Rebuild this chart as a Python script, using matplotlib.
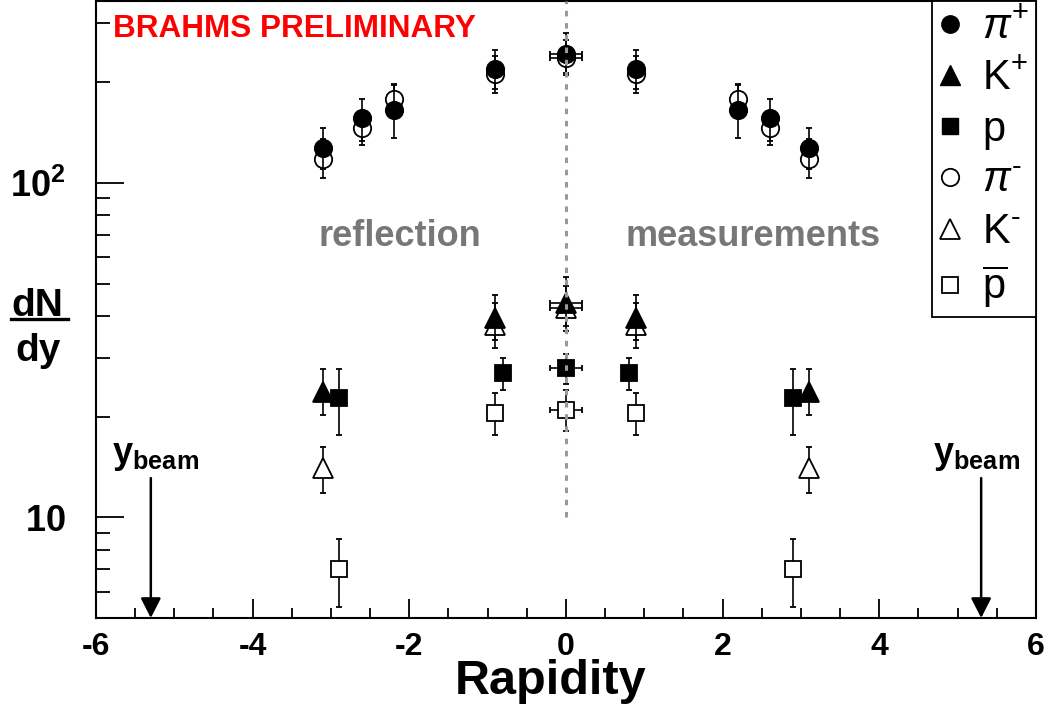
import matplotlib
matplotlib.use('Agg')
import matplotlib.pyplot as plt
from matplotlib.lines import Line2D
from matplotlib.ticker import MultipleLocator, FixedLocator, FixedFormatter, NullFormatter

plt.rcParams['font.family'] = ['Liberation Sans', 'DejaVu Sans']
plt.rcParams['mathtext.fontset'] = 'custom'
plt.rcParams['mathtext.rm'] = 'Liberation Sans'
plt.rcParams['mathtext.it'] = 'Liberation Sans:italic'
plt.rcParams['mathtext.bf'] = 'Liberation Sans:bold'
plt.rcParams['axes.unicode_minus'] = False

# measured side (y >= 0); the negative side is the reflection
pip_y = [0.0, 0.9, 2.2, 2.6, 3.1]
pip_val = [243.8, 218.5, 165.2, 156.0, 127.2]
pip_lo = [213.0, 190.9, 136.5, 133.5, 110.1]
pip_hi = [281.0, 249.5, 197.5, 178.5, 145.9]

pim_y = [0.0, 0.9, 2.2, 2.6, 3.1]
pim_val = [236.6, 211.1, 177.8, 145.6, 118.2]
pim_lo = [209.9, 186.1, 161.8, 129.8, 103.5]
pim_hi = [267.0, 239.0, 195.7, 164.0, 135.2]

kp_y = [0.0, 0.9, 3.1]
kp_val = [43.9, 39.5, 23.7]
kp_lo = [37.4, 33.9, 20.3]
kp_hi = [52.2, 46.1, 27.7]

km_y = [0.0, 0.9, 3.1]
km_val = [42.4, 37.7, 14.0]
km_lo = [36.1, 32.2, 11.8]
km_hi = [49.3, 43.9, 16.2]

p_y = [0.0, 0.8, 2.9]
p_val = [28.0, 27.0, 22.7]
p_lo = [25.1, 24.0, 17.6]
p_hi = [30.9, 29.9, 27.7]

pb_y = [0.0, 0.9, 2.9]
pb_val = [21.0, 20.5, 7.03]
pb_lo = [18.1, 17.6, 5.38]
pb_hi = [24.0, 23.5, 8.64]

mid_xerr = 0.2
y_beam = 5.3

x_ticks = [-6, -4, -2, 0, 2, 4, 6]
x_labels = ['-6', '-4', '-2', '0', '2', '4', '6']


def plot_species(ax, ys, val, lo, hi, marker, ms, filled, z):
    style = dict(marker=marker, ms=ms, ls='none', mec='black', mew=1.3,
                 mfc='black' if filled else 'white', ecolor='black',
                 elinewidth=1.2, capsize=2.5, capthick=1.2, zorder=z)
    xs, vs, el, eh = [], [], [], []
    for r, v, l, h in zip(ys, val, lo, hi):
        if r == 0:
            ax.errorbar([r], [v], yerr=[[v - l], [h - v]], xerr=mid_xerr, **style)
            continue
        for s in (-r, r):
            xs.append(s)
            vs.append(v)
            el.append(v - l)
            eh.append(h - v)
    ax.errorbar(xs, vs, yerr=[el, eh], **style)


fig = plt.figure(figsize=(10.49, 7.19), dpi=100)
ax = fig.add_axes([0.0915, 0.1405, 0.8961, 0.858])

# open markers first, filled on top
plot_species(ax, pim_y, pim_val, pim_lo, pim_hi, 'o', 12.5, False, 3)
plot_species(ax, km_y, km_val, km_lo, km_hi, '^', 14, False, 3)
plot_species(ax, pb_y, pb_val, pb_lo, pb_hi, 's', 11.5, False, 3)
plot_species(ax, pip_y, pip_val, pip_lo, pip_hi, 'o', 12.5, True, 4)
plot_species(ax, kp_y, kp_val, kp_lo, kp_hi, '^', 14, True, 4)
plot_species(ax, p_y, p_val, p_lo, p_hi, 's', 11.5, True, 4)

ax.plot([0, 0], [10, 350], color='#999999', lw=2.2, dashes=(1.8, 2.2), zorder=6)

ax.set_yscale('log')
ax.set_xlim(-6, 6)
ax.set_ylim(5.0, 350)

ax.xaxis.set_major_locator(FixedLocator(x_ticks))
ax.xaxis.set_major_formatter(FixedFormatter(x_labels))
ax.xaxis.set_minor_locator(MultipleLocator(0.5))
ax.yaxis.set_major_locator(FixedLocator([10, 100]))
ax.yaxis.set_major_formatter(FixedFormatter([r'$\mathbf{10}$', r'$\mathbf{10^{2}}$']))
ax.yaxis.set_minor_locator(FixedLocator([6, 7, 8, 9, 20, 30, 40, 50, 60, 70, 80, 90, 200, 300]))
ax.yaxis.set_minor_formatter(NullFormatter())

ax.tick_params(axis='x', which='major', direction='in', length=14, width=1.3,
               labelsize=23, pad=10, top=False)
ax.tick_params(axis='x', which='minor', direction='in', length=7, width=1.3, top=False)
ax.tick_params(axis='y', which='major', direction='in', length=20, width=1.3,
               labelsize=26, pad=22, right=False)
ax.tick_params(axis='y', which='minor', direction='in', length=10, width=1.3, right=False)
for lab in ax.get_xticklabels():
    lab.set_fontweight('bold')
for sp in ax.spines.values():
    sp.set_linewidth(1.5)

ax.set_xlabel('Rapidity', fontsize=35, fontweight='bold', va='center')
ax.xaxis.set_label_coords((551 - 96) / 940, (618 - 682) / 617)

fig.text(0.036, 0.574, 'dN', fontsize=28, fontweight='bold', ha='center', va='center')
fig.add_artist(Line2D([0.0105, 0.065], [0.556, 0.556], color='black', lw=2.4))
fig.text(0.036, 0.512, 'dy', fontsize=28, fontweight='bold', ha='center', va='center')

ax.text(0.018, 0.955, 'BRAHMS PRELIMINARY', transform=ax.transAxes, color='red',
        fontsize=22.7, fontweight='bold', ha='left', va='center')
ax.text(0.323, 0.619, 'reflection', transform=ax.transAxes, color='#777777',
        fontsize=26, fontweight='bold', ha='center', va='center')
ax.text(0.699, 0.619, 'measurements', transform=ax.transAxes, color='#777777',
        fontsize=26, fontweight='bold', ha='center', va='center')

for xb, xt in ((-y_beam, -5.80), (y_beam, 4.69)):
    ax.annotate('', xy=(xb, 5.0), xytext=(xb, 13.1),
                arrowprops=dict(arrowstyle='-|>,head_width=0.28,head_length=0.55',
                                lw=1.8, color='black', mutation_scale=22,
                                shrinkA=0, shrinkB=0))
    ax.text(xt, 13.6, r'$\mathbf{y_{beam}}$', fontsize=26, ha='left', va='bottom')

handles = [
    Line2D([], [], ls='none', marker='o', ms=12.5, mfc='black', mec='black'),
    Line2D([], [], ls='none', marker='^', ms=14, mfc='black', mec='black'),
    Line2D([], [], ls='none', marker='s', ms=11.5, mfc='black', mec='black'),
    Line2D([], [], ls='none', marker='o', ms=12.5, mfc='white', mec='black', mew=1.3),
    Line2D([], [], ls='none', marker='^', ms=14, mfc='white', mec='black', mew=1.3),
    Line2D([], [], ls='none', marker='s', ms=11.5, mfc='white', mec='black', mew=1.3),
]
labels = [r'$\pi^{+}$', r'$\mathrm{K}^{+}$', 'p', '$\\pi^{\u2010}$', '$\\mathrm{K}^{\u2010}$',
          r'$\overline{\mathrm{p}}$']
leg = ax.legend(handles, labels, loc='upper right', bbox_to_anchor=(1, 1),
                borderaxespad=0, fancybox=False, edgecolor='black', framealpha=1,
                fontsize=30, handlelength=0.55, handletextpad=0.5, labelspacing=0.27,
                borderpad=0.15)
leg.get_frame().set_linewidth(1.3)
leg.set_zorder(10)

fig.savefig('out.png', dpi=100)
